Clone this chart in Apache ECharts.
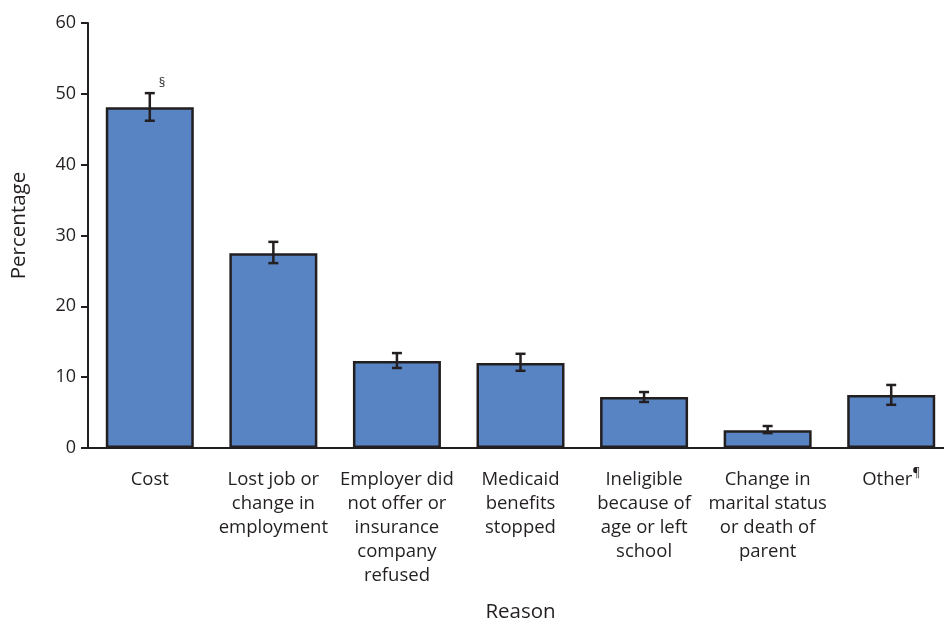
<!DOCTYPE html>
<html><head><meta charset="utf-8">
<script src="https://cdn.jsdelivr.net/npm/echarts@6/dist/echarts.min.js"></script>
<style>html,body{margin:0;padding:0;background:#fff;overflow:hidden}#c{width:944px;height:622px}</style>
</head><body><div id="c"></div>
<script>
const categories = ['Cost', 'Lost job or\nchange in\nemployment', 'Employer did\nnot offer or\ninsurance\ncompany\nrefused', 'Medicaid\nbenefits\nstopped', 'Ineligible\nbecause of\nage or left\nschool', 'Change in\nmarital status\nor death of\nparent', 'Other¶'];
const values = [48.1, 27.5, 12.3, 12.0, 7.2, 2.5, 7.5];
const ciLow = [46.2, 26.1, 11.3, 10.9, 6.5, 2.1, 6.1];
const ciHigh = [50.1, 29.1, 13.4, 13.3, 7.9, 3.1, 8.9];
const notes = ['§', '', '', '', '', '', ''];
const yTicks = [0, 10, 20, 30, 40, 50, 60];

const dark = '#231f20';
const font = '"Open Sans", "Noto Sans", sans-serif';
const chart = echarts.init(document.getElementById('c'), null, {renderer: 'canvas'});
chart.setOption({
  animation: false,
  grid: {left: 88, top: 23, width: 865, height: 425, containLabel: false, outerBoundsMode: 'none'},
  xAxis: {
    type: 'category', data: categories,
    name: 'Reason', nameLocation: 'middle', nameGap: 154,
    nameTextStyle: {fontSize: 20.5, color: dark, fontFamily: font},
    axisLine: {lineStyle: {color: dark, width: 2}},
    axisTick: {alignWithLabel: true, length: 7, lineStyle: {color: dark, width: 2}},
    axisLabel: {fontSize: 18.5, color: dark, fontFamily: font, lineHeight: 24, margin: 20, interval: 0,
      formatter: v => v.replace('¶', '{sup|¶}'),
      rich: {sup: {fontSize: 12, verticalAlign: 'top', color: dark, fontFamily: font, padding: [0,0,8,0]}}}
  },
  yAxis: {
    type: 'value', min: 0, max: 60, interval: 10,
    name: 'Percentage', nameLocation: 'middle', nameGap: 58, nameRotate: 90,
    nameTextStyle: {fontSize: 20.5, color: dark, fontFamily: font, padding: [0, 0, 0, 20]},
    axisLine: {show: true, lineStyle: {color: dark, width: 2}},
    axisTick: {show: true, length: 7, lineStyle: {color: dark, width: 2}},
    splitLine: {show: false},
    axisLabel: {fontSize: 18, color: dark, fontFamily: font, margin: 12,
      formatter: v => yTicks.includes(v) ? String(v) : ''}
  },
  series: [
    {
      type: 'bar', data: values, barWidth: 88,
      itemStyle: {color: '#5884c3', borderColor: dark, borderWidth: 2.5}
    },
    {
      type: 'custom',
      data: categories.map((c, i) => [i, ciLow[i], ciHigh[i]]),
      encode: {x: 0, y: [1, 2]},
      renderItem: (params, api) => {
        const i = api.value(0);
        const lo = api.coord([i, api.value(1)]);
        const hi = api.coord([i, api.value(2)]);
        const hw = 5;
        const st = {stroke: dark, lineWidth: 2.5};
        const children = [
          {type: 'line', shape: {x1: lo[0], y1: lo[1], x2: hi[0], y2: hi[1]}, style: st},
          {type: 'line', shape: {x1: lo[0]-hw, y1: lo[1], x2: lo[0]+hw, y2: lo[1]}, style: st},
          {type: 'line', shape: {x1: hi[0]-hw, y1: hi[1], x2: hi[0]+hw, y2: hi[1]}, style: st}
        ];
        if (notes[params.dataIndex]) {
          children.push({type: 'text', x: hi[0] + 9, y: hi[1] - 3,
            style: {text: notes[params.dataIndex], fontSize: 13, fill: dark, fontFamily: font, textVerticalAlign: 'bottom'}});
        }
        return {type: 'group', children};
      },
      z: 5
    }
  ]
});
</script></body></html>
